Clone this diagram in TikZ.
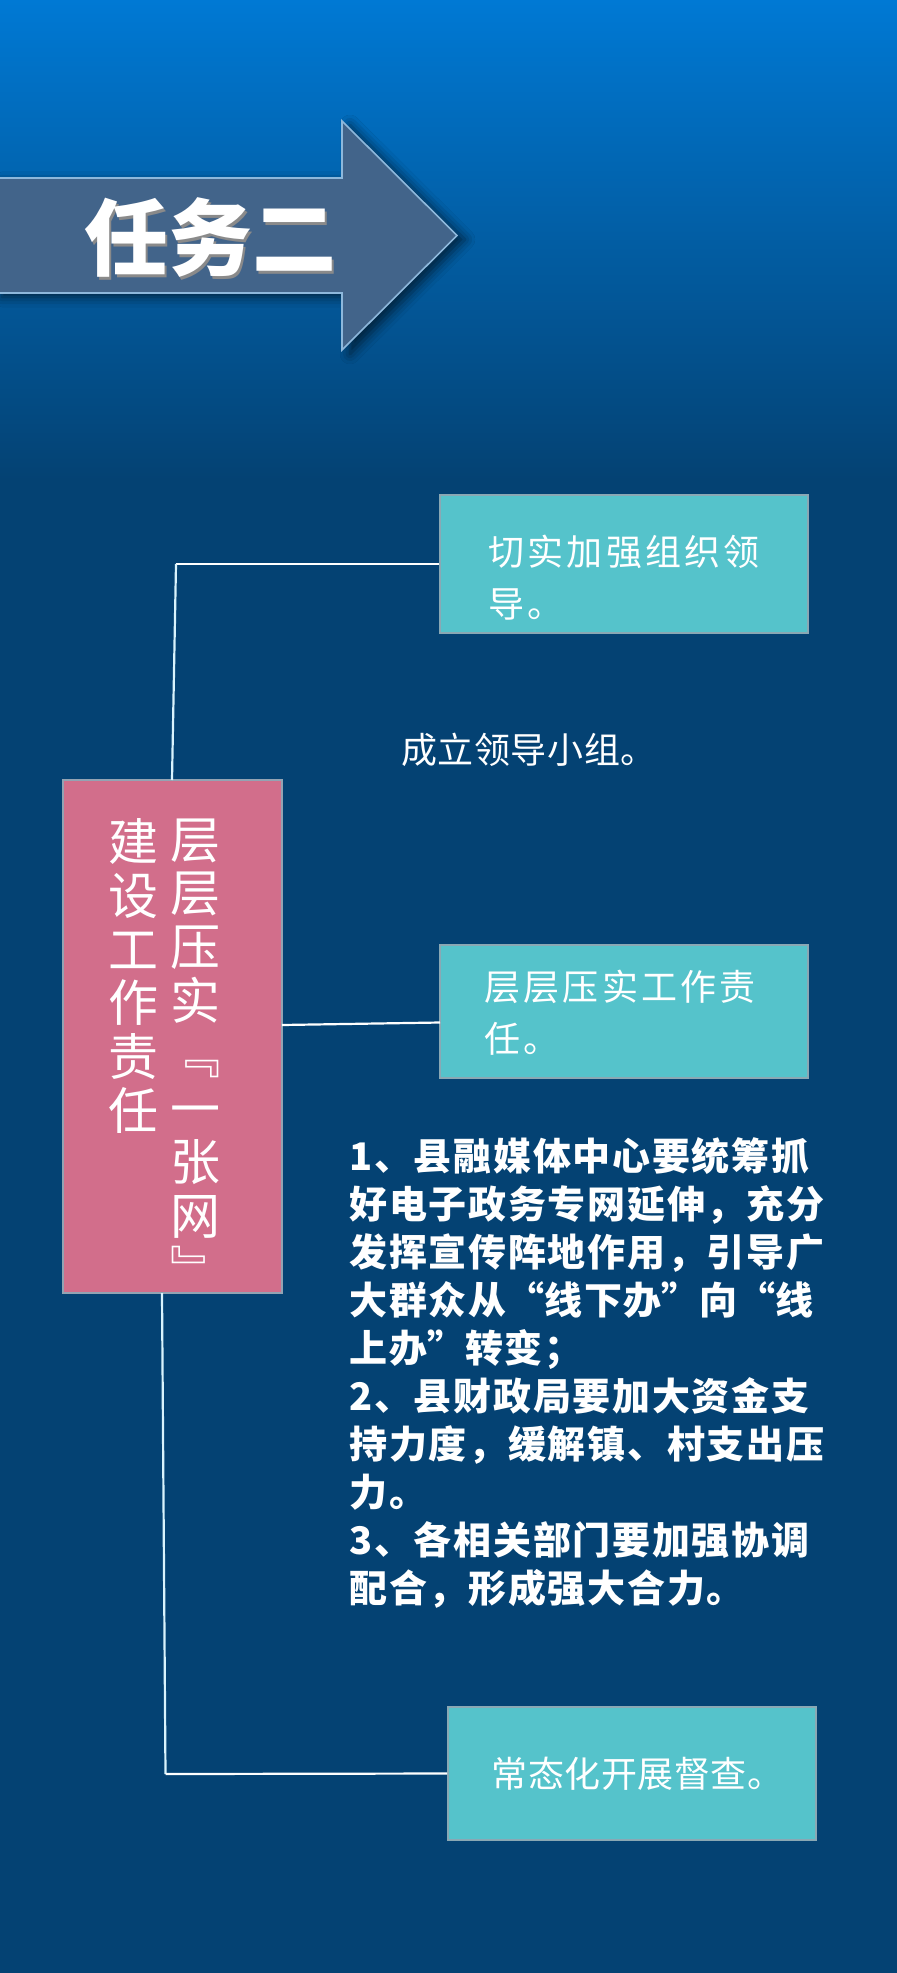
\documentclass[tikz,border=0pt]{standalone}
\usepackage{fontspec}
\newfontfamily\cjk{Noto Sans CJK SC}
\usetikzlibrary{shadows.blur}
\definecolor{bgtop}{HTML}{0079D4}
\definecolor{bgmid}{HTML}{0163AA}
\definecolor{bgbot}{HTML}{044273}
\definecolor{arrowfill}{HTML}{42648A}
\definecolor{arrowedge}{HTML}{8DB8DC}
\definecolor{boxteal}{HTML}{55C3CB}
\definecolor{tealedge}{HTML}{8AA8B4}
\definecolor{boxpink}{HTML}{D26E8B}
\definecolor{pinkedge}{HTML}{93A3B3}
\definecolor{titleshadow}{HTML}{8A8A8A}
\newcommand\fwq[1]{{\addfontfeature{CharacterWidth=Full}#1}}
\begin{document}
\begin{tikzpicture}[x=0.5pt,y=-0.5pt,
  tealbox/.style={draw=tealedge, line width=1pt, fill=boxteal, inner sep=0pt, minimum width=184pt},
  pinkbox/.style={draw=pinkedge, line width=1pt, fill=boxpink, inner sep=0pt},
  boxtext/.style={text=white, inner sep=0pt, anchor=north west, align=left,
    font={\cjk\fontsize{18pt}{26pt}\selectfont\addfontfeature{LetterSpace=9}}},
  plaintext/.style={text=white, inner sep=0pt, font={\cjk\fontsize{18pt}{26pt}\selectfont\addfontfeature{LetterSpace=1.5}}},
  paratext/.style={text=white, inner sep=0pt, anchor=north west, align=left,
    font={\cjk\bfseries\fontsize{19pt}{24pt}\selectfont\addfontfeature{LetterSpace=4.5}}},
  vtext/.style={text=white, inner sep=0pt, anchor=north, align=center,
    font={\cjk\fontsize{25pt}{26.9pt}\selectfont}},
  link/.style={draw=white, line width=1.1pt},
  vlink/.style={draw=white!85!cyan, line width=1.1pt}
]
\useasboundingbox (0,0) rectangle (897,1973);
% background
\shade[top color=bgtop, middle color=bgmid, bottom color=bgbot] (0,0) rectangle (897,480);
\fill[bgbot] (0,479) rectangle (897,1973);

% title arrow
\path[fill=arrowfill, draw=arrowedge, line width=0.8pt,
  blur shadow={shadow xshift=4pt, shadow yshift=-2pt, shadow blur radius=5pt, shadow opacity=60}]
  (-6,178) -- (342,178) -- (342,121) -- (457,235.5) -- (342,350) -- (342,293) -- (-6,293) -- cycle;
\node[text=titleshadow, inner sep=0pt, font={\cjk\bfseries\fontsize{42pt}{42pt}\selectfont}] (titleS) at (212,240.5) {任务二};
\node[text=white, inner sep=0pt, font={\cjk\bfseries\fontsize{42pt}{42pt}\selectfont}] (title) at (210,237.5) {任务二};

% main pink box
\node[pinkbox, minimum width=109.5pt, minimum height=256.5pt] (main) at (172.5,1036.5) {};
\node[vtext] (col1) at (195.5,818) {层\\层\\压\\实\\﹃\\一\\张\\网\\﹄};
\node[vtext] (col2) at (133,818) {建\\设\\工\\作\\责\\任};

% right boxes
\node[tealbox, minimum height=69pt] (b1) at (624,564) {};
\node[boxtext] (b1t) at (488,535) {切实加强组织领\\导。};

\node[plaintext] (t3) at (529,750) {成立领导小组。};

\node[tealbox, minimum height=66.5pt] (b2) at (624,1011.5) {};
\node[boxtext] (b2t) at (484,970) {层层压实工作责\\任。};

\node[paratext] (para) at (349,1137) {1、县融媒体中心要统筹抓\\好电子政务专网延伸，充分\\发挥宣传阵地作用，引导广\\大群众从\fwq{“}线下办\fwq{”}向\fwq{“}线\\上办\fwq{”}转变；\\2、县财政局要加大资金支\\持力度，缓解镇、村支出压\\力。\\3、各相关部门要加强协调\\配合，形成强大合力。};

\node[tealbox, minimum height=66.5pt] (b4) at (632,1773.5) {};
\node[plaintext] (b4t) at (637.5,1774) {常态化开展督查。};

% connectors
\coordinate (k1) at (176,564);
\coordinate (k2) at (172,780);
\draw[link] (b1.west) -- (k1);
\draw[vlink] (k1) -- (k2);
\coordinate (k3) at (282,1025);
\coordinate (k4) at (440,1022.5);
\draw[link] (k3) -- (k4);
\coordinate (k5) at (162,1293);
\coordinate (k6) at (165.5,1774);
\draw[vlink] (k5) -- (k6);
\draw[link] (k6) -- (b4.west);
\end{tikzpicture}
\end{document}
